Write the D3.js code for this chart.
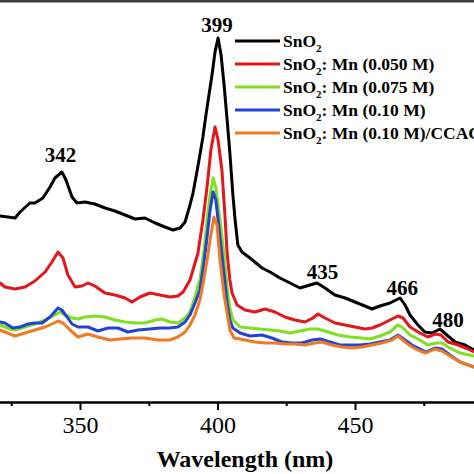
<!DOCTYPE html>
<html>
<head>
<meta charset="utf-8">
<script src="https://cdn.jsdelivr.net/npm/d3@7/dist/d3.min.js"></script>
<style>
  html, body { margin: 0; padding: 0; background: #fff; }
  svg { display: block; }
</style>
</head>
<body>
<script>
// ---- Data (wavelength in nm, PL intensity in a.u.) ----
const seriesNames = ["SnO2", "SnO2: Mn (0.050 M)", "SnO2: Mn (0.075 M)", "SnO2: Mn (0.10 M)", "SnO2: Mn (0.10 M)/CCAC"];
const seriesColors = ["#000000", "#e3161b", "#7ee021", "#2342d8", "#f07a22"];

const wlSnO2 = [320.9,323.8,326.4,328.2,331.8,333.6,336.5,339.1,340.9,343.4,344.9,347.1,348.9,351.8,355.4,359.1,362.7,366.4,370.0,373.6,377.3,380.9,383.8,386.4,388.2,390.0,391.1,392.5,393.6,394.7,395.8,396.9,398.0,399.1,400.2,401.3,402.4,403.5,404.5,405.6,406.4,407.4,408.9,411.8,416.2,419.1,422.7,426.4,430.0,433.6,436.2,439.1,442.7,446.4,450.0,453.6,456.2,459.1,462.7,466.4,468.2,470.0,472.9,475.4,478.0,480.9,483.4,486.4,490.0,493.3];
const intSnO2 = [186,185,184,190,199,199,204,215,224,230,222,205,199,200,198,194,191,187,183,184,179,175,172,174,180,197,209,230,247,265,287,307,327,350,364,347,317,282,249,207,182,157,150,144,134,130,124,119,114,117,119,114,107,104,100,96,93,96,99,104,97,87,77,70,69,73,67,60,57,52];

const wlMn050 = [320.9,322.7,326.4,330.0,333.6,337.3,339.8,342.0,343.8,345.6,348.2,350.7,352.9,355.4,359.1,362.7,366.4,368.9,371.8,375.4,379.1,382.7,385.6,387.5,390.0,392.9,394.7,396.2,397.6,399.1,400.2,401.6,402.7,403.5,404.5,405.3,407.1,410.0,413.6,417.3,420.9,424.5,428.2,431.8,434.7,436.5,439.1,442.7,446.4,450.0,453.6,456.2,459.1,462.7,465.6,467.5,470.0,473.6,476.5,479.1,481.3,483.8,487.5,491.1,493.3];
const intMn050 = [119,115,113,115,121,130,140,150,144,127,115,116,119,116,109,107,104,100,105,109,107,105,106,110,122,149,182,215,252,275,262,232,187,149,122,109,97,92,90,93,90,85,82,80,84,88,84,79,77,75,73,74,77,82,86,84,75,69,65,68,67,60,57,53,50];

const wlMn075 = [320.9,324.5,326.4,330.0,333.6,337.3,340.9,342.7,344.5,347.1,349.3,351.8,355.4,359.1,362.7,366.4,370.0,373.6,377.3,379.8,382.7,385.6,388.2,390.0,391.8,393.6,395.1,396.2,397.3,398.4,399.4,400.9,402.4,403.5,404.5,405.6,408.2,411.8,415.4,419.1,422.7,426.4,430.0,433.6,436.5,440.2,443.8,448.2,452.5,455.4,459.1,462.7,465.6,467.5,470.0,473.6,476.5,479.5,481.6,484.5,488.2,493.3];
const intMn075 = [77,73,72,75,78,82,87,90,87,84,83,85,86,85,82,80,79,79,82,83,80,79,84,90,105,122,152,182,207,224,214,182,147,115,94,82,75,74,73,72,71,69,71,73,73,70,67,65,64,63,66,70,77,74,67,62,57,59,59,54,49,46];

const wlMn10 = [320.9,322.7,325.6,328.2,331.1,333.6,336.2,339.1,342.0,343.4,345.3,347.1,349.3,352.9,356.5,360.2,363.8,367.4,371.1,375.4,379.1,382.7,385.6,388.2,390.0,391.8,393.6,395.1,396.2,397.3,398.4,399.4,400.9,402.4,403.5,404.5,405.6,408.2,411.8,416.2,419.8,423.4,427.1,430.7,434.4,437.3,440.9,444.5,448.2,451.8,455.4,459.1,462.7,465.6,468.2,470.7,473.6,475.8,479.1,481.6,484.5,488.2,493.3];
const intMn10 = [80,79,74,75,78,79,79,85,94,92,85,78,75,75,71,74,74,70,72,73,74,74,75,80,87,99,112,140,165,192,210,202,165,127,99,82,74,69,66,67,64,60,59,59,62,63,60,57,57,57,58,60,62,67,62,57,53,50,54,53,47,40,35];

const wlCCAC = [320.9,322.7,326.4,330.0,333.6,337.3,339.8,342.0,343.8,346.4,349.3,352.9,356.5,360.9,364.5,368.9,373.6,378.3,382.7,385.6,388.2,390.0,391.8,393.6,395.1,396.2,397.6,398.7,399.8,400.9,402.4,403.5,404.5,406.0,410.0,413.6,417.3,420.9,424.5,428.2,431.8,435.4,438.0,441.6,445.3,448.9,452.5,456.2,459.8,463.5,465.6,468.2,470.7,473.6,475.8,479.1,481.6,484.5,488.2,493.3];
const intCCAC = [72,70,66,69,72,75,78,81,79,72,65,68,65,62,63,64,64,62,62,65,70,77,87,102,124,142,167,185,177,142,107,89,72,64,62,60,59,59,58,58,57,59,60,57,55,54,55,57,59,62,66,60,55,51,49,53,51,46,40,35];

const xMajorTicks = [350, 400, 450];
const xMinorTicks = [325, 375, 425, 475];
const peakLabels = ["342", "399", "435", "466", "480"];
const peakLabelWl = [342.9, 399.8, 438.2, 467.2, 483.8];
const peakLabelInt = [240, 370, 123, 107, 75];
const xTitle = "Wavelength (nm)";

// ---- Build ----
const W = 474, H = 474;
const plotTop = 1, plotBottom = 402;
const FONT = "'Liberation Serif','Times New Roman',Times,serif";

const svg = d3.select("body").append("svg").attr("width", W).attr("height", H);

const x = d3.scaleLinear().domain([320, 500]).range([-2.5, 492.5]);
const y = d3.scaleLinear().domain([0, 401]).range([plotBottom, plotTop]);

svg.append("defs").append("clipPath").attr("id", "clip")
  .append("rect").attr("x", x(320)).attr("y", plotTop).attr("width", x(500) - x(320)).attr("height", plotBottom - plotTop);

const wls = [wlSnO2, wlMn050, wlMn075, wlMn10, wlCCAC];
const ints = [intSnO2, intMn050, intMn075, intMn10, intCCAC];

const line = d3.line().x(d => x(d[0])).y(d => y(d[1])).curve(d3.curveLinear);

const gLines = svg.append("g").attr("clip-path", "url(#clip)");
wls.forEach((wl, i) => {
  const pts = wl.map((w, j) => [w, ints[i][j]]);
  gLines.append("path").datum(pts)
    .attr("d", line)
    .attr("fill", "none")
    .attr("stroke", seriesColors[i])
    .attr("stroke-width", 3)
    .attr("stroke-linejoin", "round")
    .attr("stroke-linecap", "round");
});

// Top frame
svg.append("line").attr("x1", x(320)).attr("x2", x(500)).attr("y1", plotTop).attr("y2", plotTop)
  .attr("stroke", "#3c3c3c").attr("stroke-width", 3);

// Bottom axis
const axis = d3.axisBottom(x).tickValues(xMajorTicks).tickSize(8).tickSizeOuter(0).tickPadding(6).tickFormat(d3.format("d"));
const gAxis = svg.append("g").attr("transform", `translate(0,${plotBottom})`).call(axis);
gAxis.select(".domain").attr("stroke", "#000").attr("stroke-width", 2.5);
gAxis.selectAll(".tick line").attr("stroke", "#000").attr("stroke-width", 2);
gAxis.selectAll(".tick text").attr("font-family", FONT).attr("font-size", 24).attr("fill", "#000");

const minorAxis = d3.axisBottom(x).tickValues(xMinorTicks).tickSize(4).tickSizeOuter(0).tickFormat("");
const gMinor = svg.append("g").attr("transform", `translate(0,${plotBottom})`).call(minorAxis);
gMinor.select(".domain").remove();
gMinor.selectAll(".tick line").attr("stroke", "#000").attr("stroke-width", 2);

svg.append("text").attr("x", (x(320) + x(500)) / 2).attr("y", 467)
  .attr("text-anchor", "middle").attr("font-family", FONT).attr("font-weight", "bold")
  .attr("font-size", 24).attr("fill", "#000").text(xTitle);

// Peak labels
peakLabels.forEach((t, i) => {
  svg.append("text").attr("x", x(peakLabelWl[i])).attr("y", y(peakLabelInt[i]))
    .attr("text-anchor", "middle").attr("font-family", FONT).attr("font-weight", "bold")
    .attr("font-size", 21).attr("fill", "#000").text(t);
});

// Legend
const leg = svg.append("g").attr("transform", "translate(235,41)");
seriesNames.forEach((name, i) => {
  const row = leg.append("g").attr("transform", `translate(0,${i * 23})`);
  row.append("line").attr("x1", 0).attr("x2", 45).attr("y1", 0).attr("y2", 0)
    .attr("stroke", seriesColors[i]).attr("stroke-width", 3);
  const txt = row.append("text").attr("x", 48).attr("y", 6)
    .attr("font-family", FONT).attr("font-weight", "bold").attr("font-size", 17.5).attr("fill", "#000");
  const rest = name.slice(4);
  txt.append("tspan").text("SnO");
  txt.append("tspan").attr("font-size", 11).attr("dy", 5).text("2");
  if (rest.length) txt.append("tspan").attr("dy", -5).text(rest);
});
</script>
</body>
</html>
